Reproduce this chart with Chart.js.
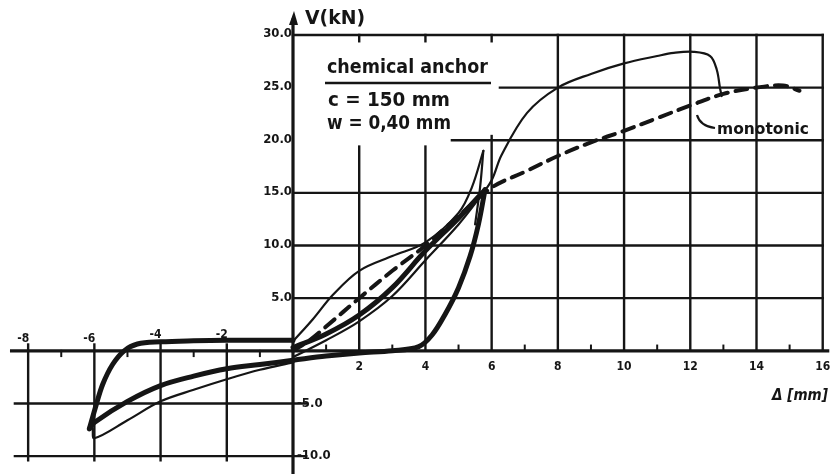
<!DOCTYPE html>
<html>
<head>
<meta charset="utf-8">
<script src="https://cdn.jsdelivr.net/npm/chart.js@4.4.1/dist/chart.umd.min.js"></script>
<style>
html, body { margin: 0; padding: 0; background: #fff; }
#wrap { width: 830px; height: 474px; }
</style>
</head>
<body>
<div id="wrap"><canvas id="myChart" width="830" height="474"></canvas></div>
<script>
// tick labels
var yTickVals = [30, 25, 20, 15, 10, 5];
var yTickLabels = ['30.0', '25.0', '20.0', '15.0', '10.0', '5.0'];
var yNegVals = [-5, -10];
var yNegLabels = ['-5.0', '-10.0'];
var xPosTicks = [2, 4, 6, 8, 10, 12, 14, 16];
var xNegTicks = [-8, -6, -4, -2];

// monotonic test (dashed)
var monoX = [0, 0.5, 1, 2, 3, 4, 5, 6, 7, 8, 9, 10, 11, 12, 13, 14, 14.8, 15.3];
var monoY = [0, 1.0, 2.3, 5.0, 7.6, 10.0, 12.8, 15.5, 17.0, 18.5, 19.8, 20.9, 22.1, 23.3, 24.4, 25.0, 25.2, 24.7];

// first cycle (thick)
var thickUpX = [0, 1, 2, 3, 4, 5, 5.8];
var thickUpY = [0.3, 1.6, 3.4, 6.0, 9.5, 12.6, 15.3];
var thickDownX = [5.8, 5.6, 5.35, 5.0, 4.6, 4.2, 3.8, 3, 2, 1, 0];
var thickDownY = [15.3, 12.0, 9.0, 6.0, 3.5, 1.5, 0.4, 0, -0.2, -0.5, -0.9];
var thickNegX = [0, -1, -2, -3, -4, -5, -6, -6.15];
var thickNegY = [-0.9, -1.3, -1.7, -2.4, -3.3, -4.8, -6.8, -7.4];
var thickBackX = [-6.15, -5.95, -5.75, -5.45, -5.1, -4.7, -4, -3, -2, -1, 0];
var thickBackY = [-7.4, -5.2, -3.2, -1.3, 0, 0.65, 0.85, 0.95, 1.0, 1.0, 1.0];

// later cycles (thin)
var thinUpX = [0, 0.6, 1.2, 2, 3, 4, 5, 5.4, 5.75];
var thinUpY = [0.9, 3.0, 5.3, 7.6, 9.0, 10.3, 13.1, 15.5, 19.0];
var thinPeakX = [5.75, 5.65, 5.5];
var thinPeakY = [19.0, 15.5, 12.0];
var thinNegX = [0, -1, -2, -3, -4, -5, -6, -6.05];
var thinNegY = [-1.1, -1.8, -2.7, -3.7, -4.8, -6.6, -8.3, -7.4];
var thinLastX = [0, 1, 2, 3, 4, 5, 5.6, 6.0, 6.3, 7.07, 8, 9, 10, 11, 11.5, 12.1, 12.6, 12.8, 12.9, 12.95];
var thinLastY = [-0.6, 1.0, 2.8, 5.2, 8.6, 12.0, 14.4, 16.2, 18.6, 22.6, 25.0, 26.3, 27.3, 28.0, 28.3, 28.4, 28.0, 26.7, 24.9, 24.2];

var INK = '#151515';
var FONT = '"DejaVu Sans Condensed", "Liberation Sans Narrow", "DejaVu Sans", sans-serif';

function curve(xs, ys, w, dash) {
    return {
        data: xs.map(function (x, i) { return { x: x, y: ys[i] }; }),
        showLine: true,
        borderColor: INK,
        borderWidth: w,
        borderDash: dash || [],
        borderCapStyle: 'round',
        borderJoinStyle: 'round',
        pointRadius: 0,
        tension: 0.35,
        fill: false
    };
}

// text squeezed/stretched to a given width
function fitText(ctx, txt, x, y, w) {
    var m = ctx.measureText(txt).width;
    ctx.save();
    ctx.translate(x, y);
    ctx.scale(w / m, 1);
    ctx.textAlign = 'left';
    ctx.fillText(txt, 0, 0);
    ctx.restore();
}

var paper = {
    id: 'paper',
    beforeDraw: function (chart) {
        var c = chart.ctx;
        c.save();
        c.fillStyle = '#fff';
        c.fillRect(0, 0, chart.width, chart.height);
        c.restore();
    },
    beforeDatasetsDraw: function (chart) {
        var c = chart.ctx;
        var X = function (v) { return chart.scales.x.getPixelForValue(v); };
        var Y = function (v) { return chart.scales.y.getPixelForValue(v); };
        function seg(x1, y1, x2, y2, w) {
            c.lineWidth = w || 2.4;
            c.beginPath();
            c.moveTo(X(x1), Y(y1));
            c.lineTo(X(x2), Y(y2));
            c.stroke();
        }
        c.save();
        c.strokeStyle = INK;
        c.lineCap = 'square';
        // horizontal grid, positive side
        seg(0, 30, 16, 30);
        seg(6.25, 25, 16, 25);
        seg(4.8, 20, 16, 20);
        seg(0, 15, 16, 15);
        seg(0, 10, 16, 10);
        seg(0, 5, 16, 5);
        // vertical grid, positive side
        [2, 4].forEach(function (v) { seg(v, 0, v, 19.4); seg(v, 30, v, 29.4); });
        seg(6, 0, 6, 20.4); seg(6, 30, 6, 29.4);
        [8, 10, 12, 14, 16].forEach(function (v) { seg(v, 0, v, 30); });
        // negative side
        seg(-8.4, -5, 0.4, -5);
        seg(-8.4, -10, 0.4, -10);
        xNegTicks.forEach(function (v) { seg(v, -10.4, v, 0.6); });
        // minor ticks on the x axis
        for (var k = -7; k <= 15; k += 2) {
            if (k > 0) seg(k, 0, k, 0.5, 2);
            else seg(k, 0, k, -0.5, 2);
        }
        // axes
        seg(-8.5, 0, 16.15, 0, 3.2);
        c.lineWidth = 3.2;
        c.beginPath();
        c.moveTo(X(0), Y(-11.6));
        c.lineTo(X(0), 20);
        c.stroke();
        // arrow head of V axis
        c.fillStyle = INK;
        c.beginPath();
        c.moveTo(X(0) + 1, 11);
        c.lineTo(X(0) - 4, 25);
        c.lineTo(X(0) + 5, 25);
        c.closePath();
        c.fill();
        c.restore();
    },
    afterDatasetsDraw: function (chart) {
        var c = chart.ctx;
        var X = function (v) { return chart.scales.x.getPixelForValue(v); };
        var Y = function (v) { return chart.scales.y.getPixelForValue(v); };
        c.save();
        c.fillStyle = INK;
        c.strokeStyle = INK;
        c.textBaseline = 'middle';

        // y tick labels
        c.font = 'bold 13px ' + FONT;
        c.textAlign = 'right';
        yTickVals.forEach(function (v, i) {
            c.fillText(yTickLabels[i], X(0) - 1, Y(v) - 1);
        });
        c.textAlign = 'left';
        yNegVals.forEach(function (v, i) {
            c.fillText(yNegLabels[i], X(0) + 4, Y(v));
        });
        // x tick labels
        c.textAlign = 'center';
        c.font = 'bold 12px ' + FONT;
        xPosTicks.forEach(function (v) {
            c.fillText(String(v), X(v), Y(0) + 16);
        });
        xNegTicks.forEach(function (v) {
            var up = v > -5 ? 16 : 12;
            c.fillText(String(v), X(v) - 5, Y(0) - up);
        });

        // axis titles
        c.font = 'bold 20px ' + FONT;
        fitText(c, 'V(kN)', 305, 19, 60);
        c.font = 'bold italic 15px ' + FONT;
        fitText(c, 'Δ [mm]', 772, 396, 56);

        // test description
        c.font = 'bold 19px ' + FONT;
        fitText(c, 'chemical anchor', 327, 68, 161);
        c.lineWidth = 2.4;
        c.beginPath();
        c.moveTo(325, 83);
        c.lineTo(491, 83);
        c.stroke();
        fitText(c, 'c = 150 mm', 328, 101, 122);
        fitText(c, 'w = 0,40 mm', 327, 124, 124);

        // monotonic label with leader
        c.font = 'bold 16px ' + FONT;
        fitText(c, 'monotonic', 717, 130, 92);
        c.lineWidth = 2.2;
        c.beginPath();
        c.moveTo(697, 115);
        c.quadraticCurveTo(700, 126, 715, 128);
        c.stroke();
        c.restore();
    }
};

var ctx = document.getElementById('myChart').getContext('2d');
var chart = new Chart(ctx, {
    type: 'scatter',
    data: {
        datasets: [
            curve(monoX, monoY, 4, [12, 8]),
            curve(thickUpX, thickUpY, 5),
            curve(thickDownX, thickDownY, 5),
            curve(thickNegX, thickNegY, 5),
            curve(thickBackX, thickBackY, 5),
            curve(thinUpX, thinUpY, 2.2),
            curve(thinPeakX, thinPeakY, 2.2),
            curve(thinNegX, thinNegY, 2.2),
            curve(thinLastX, thinLastY, 2.2)
        ]
    },
    options: {
        responsive: false,
        animation: false,
        layout: { padding: 0, autoPadding: false },
        plugins: {
            legend: { display: false },
            tooltip: { enabled: false }
        },
        scales: {
            x: { type: 'linear', min: -8.85, max: 16.22, display: false },
            y: { type: 'linear', min: -11.7, max: 33.32, display: false }
        }
    },
    plugins: [paper]
});
</script>
</body>
</html>
